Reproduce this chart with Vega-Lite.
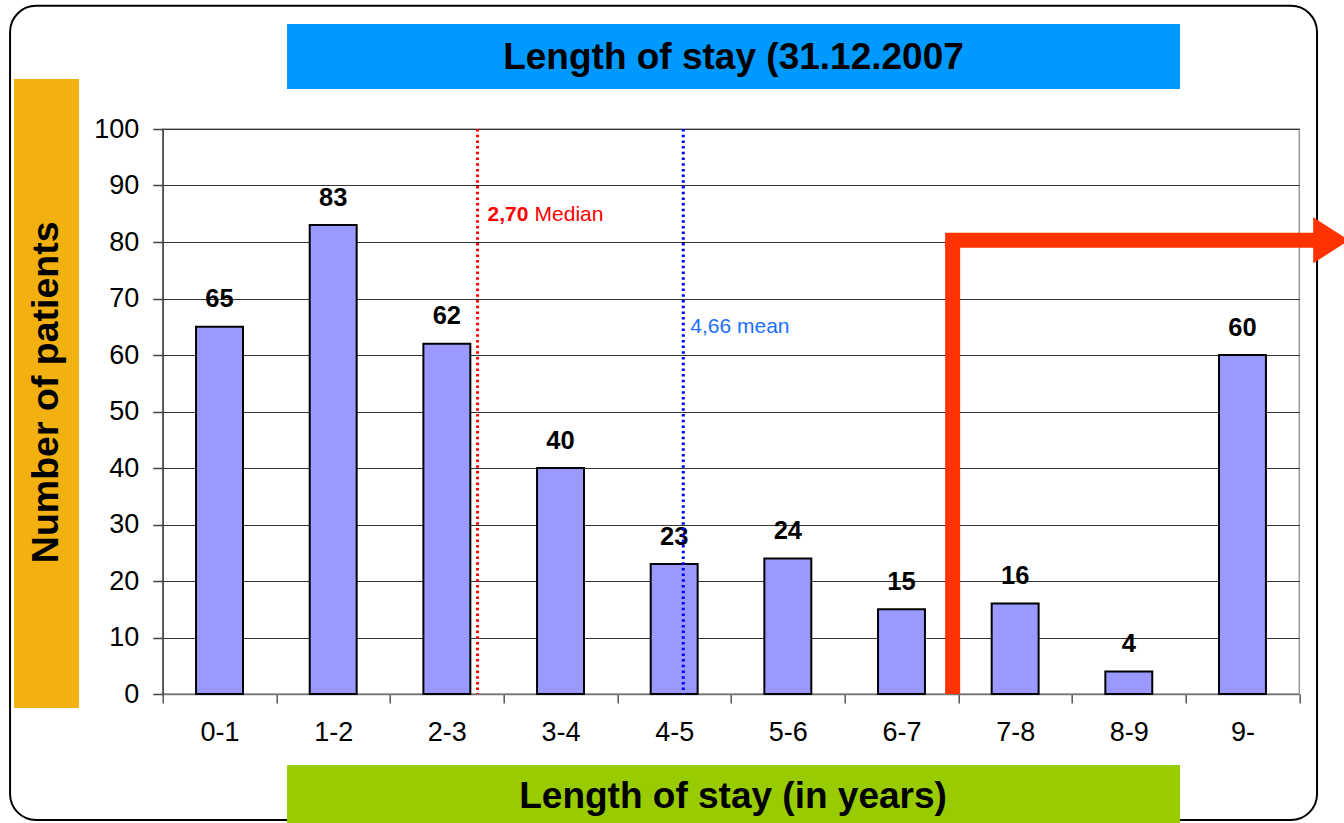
{
  "$schema": "https://vega.github.io/schema/vega-lite/v6.json",
  "autosize": {"type": "none"},
  "width": 1136.6,
  "height": 565,
  "padding": {"left": 162.7, "top": 129, "right": 44.7, "bottom": 129},
  "background": "white",
  "config": {
    "font": "Liberation Sans",
    "view": {"stroke": "#999999", "strokeWidth": 1.5}
  },
  "datasets": {
    "bars": [
      {"stay": "0-1", "patients": 65},
      {"stay": "1-2", "patients": 83},
      {"stay": "2-3", "patients": 62},
      {"stay": "3-4", "patients": 40},
      {"stay": "4-5", "patients": 23},
      {"stay": "5-6", "patients": 24},
      {"stay": "6-7", "patients": 15},
      {"stay": "7-8", "patients": 16},
      {"stay": "8-9", "patients": 4},
      {"stay": "9-", "patients": 60}
    ],
    "refs": [
      {"stat": "Median", "value": "2,70", "at": 2.77},
      {"stat": "mean", "value": "4,66", "at": 4.58}
    ]
  },
  "resolve": {"scale": {"x": "independent"}},
  "layer": [
    {
      "data": {"values": [{"box": "frame"}]},
      "mark": {"type": "rect", "fill": "transparent", "stroke": "#000000", "strokeWidth": 2, "cornerRadius": 26, "clip": false},
      "encoding": {
        "x": {"datum": -1.343, "type": "quantitative", "scale": {"domain": [0, 10], "nice": false, "zero": false}, "axis": null},
        "x2": {"datum": 10.156},
        "y": {"datum": 121.8, "type": "quantitative", "scale": {"domain": [0, 100], "nice": false}},
        "y2": {"datum": -22.3}
      }
    },
    {
      "data": {"values": [{"box": "title"}]},
      "mark": {"type": "rect", "fill": "#0099FF", "clip": false},
      "encoding": {
        "x": {"datum": 1.094, "type": "quantitative", "scale": {"domain": [0, 10], "nice": false, "zero": false}, "axis": null},
        "x2": {"datum": 8.951},
        "y": {"datum": 118.58, "type": "quantitative", "scale": {"domain": [0, 100], "nice": false}},
        "y2": {"datum": 107.08}
      }
    },
    {
      "data": {"values": [{"box": "y title"}]},
      "mark": {"type": "rect", "fill": "#F2B011", "clip": false},
      "encoding": {
        "x": {"datum": -1.308, "type": "quantitative", "scale": {"domain": [0, 10], "nice": false, "zero": false}, "axis": null},
        "x2": {"datum": -0.736},
        "y": {"datum": 108.85, "type": "quantitative", "scale": {"domain": [0, 100], "nice": false}},
        "y2": {"datum": -2.48}
      }
    },
    {
      "data": {"values": [{"box": "x title"}]},
      "mark": {"type": "rect", "fill": "#99CC00", "clip": false},
      "encoding": {
        "x": {"datum": 1.094, "type": "quantitative", "scale": {"domain": [0, 10], "nice": false, "zero": false}, "axis": null},
        "x2": {"datum": 8.951},
        "y": {"datum": -12.57, "type": "quantitative", "scale": {"domain": [0, 100], "nice": false}},
        "y2": {"datum": -23.5}
      }
    },
    {
      "data": {"name": "bars"},
      "mark": {"type": "bar", "fill": "#9999FF", "stroke": "#000000", "strokeWidth": 2, "width": {"band": 0.413}},
      "encoding": {
        "x": {
          "field": "stay", "type": "nominal", "sort": null,
          "scale": {"paddingInner": 0, "paddingOuter": 0},
          "axis": {
            "title": null, "labelAngle": 0, "tickBand": "extent", "grid": false,
            "labelFontSize": 27, "labelColor": "#000000", "labelPadding": 29, "labelBaseline": "middle",
            "tickSize": 9, "tickColor": "#555555", "tickWidth": 1.5,
            "domainColor": "#777777", "domainWidth": 1.5
          }
        },
        "y": {
          "field": "patients", "type": "quantitative",
          "scale": {"domain": [0, 100], "nice": false},
          "axis": {
            "title": null, "values": [0, 10, 20, 30, 40, 50, 60, 70, 80, 90, 100],
            "grid": true, "gridColor": "#333333", "gridWidth": 1.2,
            "labelFontSize": 27, "labelColor": "#000000", "labelPadding": 14,
            "tickSize": 10, "tickColor": "#444444", "tickWidth": 1.5,
            "domainColor": "#444444", "domainWidth": 1.5
          }
        }
      }
    },
    {
      "data": {"name": "bars"},
      "mark": {"type": "text", "fontWeight": "bold", "fontSize": 25.5, "dy": -19.5, "baseline": "alphabetic", "color": "#000000"},
      "encoding": {
        "x": {"field": "stay", "type": "nominal", "sort": null, "scale": {"paddingInner": 0, "paddingOuter": 0}, "axis": null},
        "y": {"field": "patients", "type": "quantitative", "scale": {"domain": [0, 100], "nice": false}},
        "text": {"field": "patients"}
      }
    },
    {
      "data": {"name": "refs"},
      "mark": {"type": "rule", "strokeWidth": 3, "strokeDash": [2.5, 3.2]},
      "encoding": {
        "x": {"field": "at", "type": "quantitative", "scale": {"domain": [0, 10], "nice": false, "zero": false}, "axis": null},
        "color": {"field": "stat", "type": "nominal", "scale": {"domain": ["Median", "mean"], "range": ["#FF0000", "#0000FF"]}, "legend": null}
      }
    },
    {
      "data": {"name": "refs"},
      "transform": [{"filter": "datum.stat === 'Median'"}],
      "mark": {"type": "text", "align": "left", "baseline": "middle", "fontSize": 21, "fontWeight": "bold", "color": "#FF0000", "dx": 10},
      "encoding": {
        "x": {"field": "at", "type": "quantitative", "scale": {"domain": [0, 10], "nice": false, "zero": false}, "axis": null},
        "y": {"datum": 84.8, "type": "quantitative", "scale": {"domain": [0, 100], "nice": false}},
        "text": {"field": "value"}
      }
    },
    {
      "data": {"name": "refs"},
      "transform": [{"filter": "datum.stat === 'Median'"}],
      "mark": {"type": "text", "align": "left", "baseline": "middle", "fontSize": 21, "color": "#FF0000", "dx": 57},
      "encoding": {
        "x": {"field": "at", "type": "quantitative", "scale": {"domain": [0, 10], "nice": false, "zero": false}, "axis": null},
        "y": {"datum": 84.8, "type": "quantitative", "scale": {"domain": [0, 100], "nice": false}},
        "text": {"field": "stat"}
      }
    },
    {
      "data": {"name": "refs"},
      "transform": [{"filter": "datum.stat === 'mean'"}],
      "mark": {"type": "text", "align": "left", "baseline": "middle", "fontSize": 21, "color": "#1A6FFF", "dx": 7},
      "encoding": {
        "x": {"field": "at", "type": "quantitative", "scale": {"domain": [0, 10], "nice": false, "zero": false}, "axis": null},
        "y": {"datum": 65.0, "type": "quantitative", "scale": {"domain": [0, 100], "nice": false}},
        "text": {"value": "4,66 mean"}
      }
    },
    {
      "data": {"values": [{"part": "arrow stem"}]},
      "mark": {"type": "rule", "color": "#FF3300", "strokeWidth": 15, "strokeCap": "butt", "clip": false},
      "encoding": {
        "x": {"datum": 6.95, "type": "quantitative", "scale": {"domain": [0, 10], "nice": false, "zero": false}, "axis": null},
        "y": {"datum": 0, "type": "quantitative", "scale": {"domain": [0, 100], "nice": false}},
        "y2": {"datum": 80.3}
      }
    },
    {
      "data": {"values": [{"part": "arrow shaft"}]},
      "mark": {"type": "rule", "color": "#FF3300", "strokeWidth": 15, "strokeCap": "square", "clip": false},
      "encoding": {
        "x": {"datum": 6.95, "type": "quantitative", "scale": {"domain": [0, 10], "nice": false, "zero": false}, "axis": null},
        "x2": {"datum": 10.12},
        "y": {"datum": 80.3, "type": "quantitative", "scale": {"domain": [0, 100], "nice": false}}
      }
    },
    {
      "data": {"values": [{"part": "arrow head"}]},
      "mark": {"type": "point", "shape": "M-0.78,-1L0.78,0L-0.78,1Z", "filled": true, "fill": "#FF3300", "opacity": 1, "strokeWidth": 0, "size": 2116, "clip": false},
      "encoding": {
        "x": {"datum": 10.28, "type": "quantitative", "scale": {"domain": [0, 10], "nice": false, "zero": false}, "axis": null},
        "y": {"datum": 80.3, "type": "quantitative", "scale": {"domain": [0, 100], "nice": false}}
      }
    },
    {
      "data": {"values": [{"label": "Length of stay (31.12.2007"}]},
      "mark": {"type": "text", "fontSize": 37, "fontWeight": "bold", "color": "#000000", "align": "center", "baseline": "middle", "clip": false},
      "encoding": {
        "x": {"datum": 5.022, "type": "quantitative", "scale": {"domain": [0, 10], "nice": false, "zero": false}, "axis": null},
        "y": {"datum": 112.6, "type": "quantitative", "scale": {"domain": [0, 100], "nice": false}},
        "text": {"field": "label"}
      }
    },
    {
      "data": {"values": [{"label": "Length of stay (in years)"}]},
      "mark": {"type": "text", "fontSize": 37, "fontWeight": "bold", "color": "#000000", "align": "center", "baseline": "middle", "clip": false},
      "encoding": {
        "x": {"datum": 5.018, "type": "quantitative", "scale": {"domain": [0, 10], "nice": false, "zero": false}, "axis": null},
        "y": {"datum": -18.3, "type": "quantitative", "scale": {"domain": [0, 100], "nice": false}},
        "text": {"field": "label"}
      }
    },
    {
      "data": {"values": [{"label": "Number of patients"}]},
      "mark": {"type": "text", "fontSize": 37.5, "fontWeight": "bold", "color": "#000000", "align": "center", "baseline": "middle", "angle": 270, "clip": false},
      "encoding": {
        "x": {"datum": -1.02, "type": "quantitative", "scale": {"domain": [0, 10], "nice": false, "zero": false}, "axis": null},
        "y": {"datum": 53.4, "type": "quantitative", "scale": {"domain": [0, 100], "nice": false}},
        "text": {"field": "label"}
      }
    }
  ]
}
